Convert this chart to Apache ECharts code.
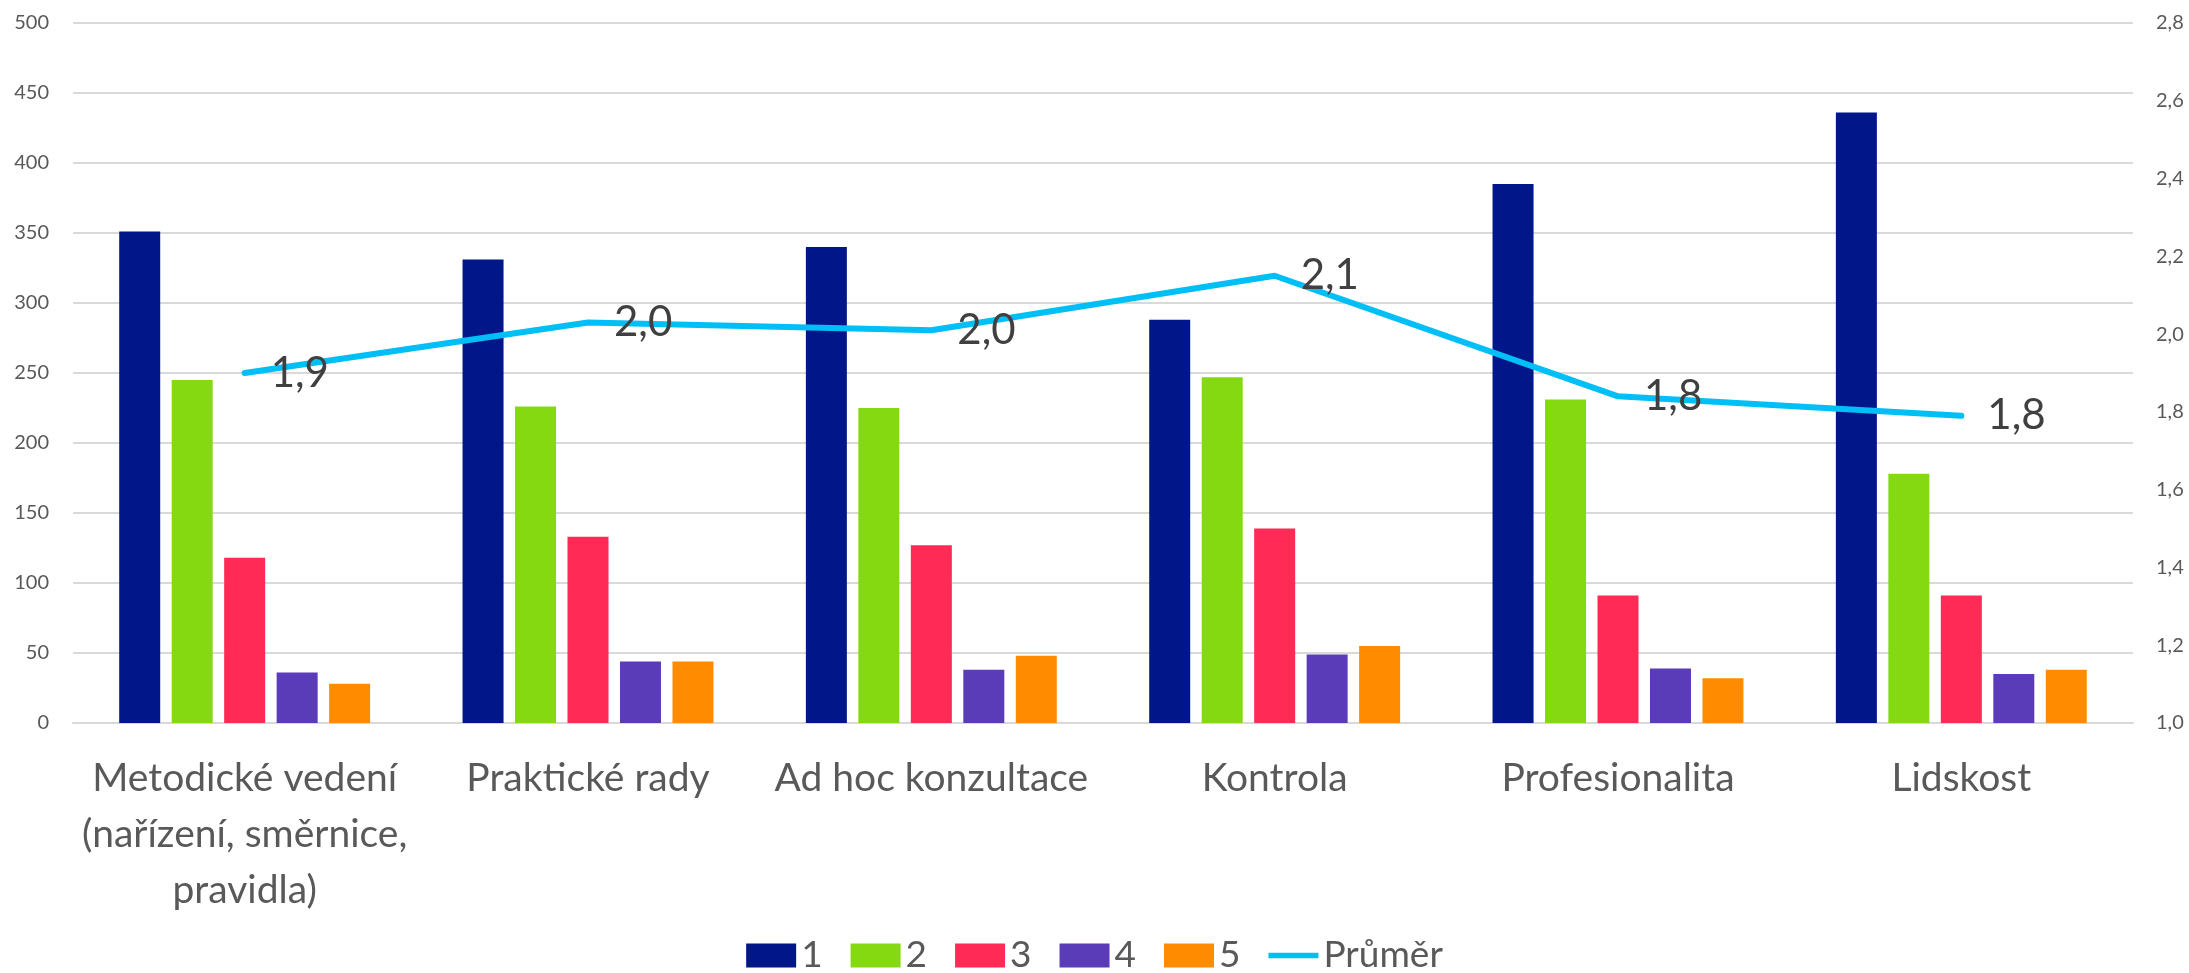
<!DOCTYPE html>
<html>
<head>
<meta charset="utf-8">
<script src="https://cdn.jsdelivr.net/npm/echarts@6/dist/echarts.min.js"></script>
<style>
  html, body { margin: 0; padding: 0; background: #fff; }
  #main { width: 2189px; height: 973px; }
</style>
</head>
<body>
<div id="main"></div>
<script>
const categories = [
  "Metodické vedení\n(nařízení, směrnice,\npravidla)",
  "Praktické rady",
  "Ad hoc konzultace",
  "Kontrola",
  "Profesionalita",
  "Lidskost",
]
const seriesNames = ["1", "2", "3", "4", "5"]
const values1 = [351, 331, 340, 288, 385, 436]
const values2 = [245, 226, 225, 247, 231, 178]
const values3 = [118, 133, 127, 139, 91, 91]
const values4 = [36, 44, 38, 49, 39, 35]
const values5 = [28, 44, 48, 55, 32, 38]
const average = [1.90, 2.03, 2.01, 2.15, 1.84, 1.79]
const barColors = ["#001689", "#84D911", "#FF2A55", "#5A3BB8", "#FF8C00"]
const lineColor = "#00BFF7"

const font = "Lato"
const chart = echarts.init(document.getElementById("main"))

const barSeries = [values1, values2, values3, values4, values5].map((data, i) => ({
  name: seriesNames[i],
  type: "bar",
  data: data,
  barWidth: 41,
  barGap: "28%",
  itemStyle: { color: barColors[i] },
}))

const option = {
  animation: false,
  grid: { left: 73, right: 56, top: 23, bottom: 250 },
  legend: {
    bottom: -6,
    left: "center",
    itemWidth: 50,
    itemHeight: 24,
    itemGap: 28,
    textStyle: { fontFamily: font, fontSize: 37, color: "#595959" },
    data: [
      ...seriesNames.map(n => ({ name: n, icon: "rect" })),
      { name: "Průměr", icon: "path://M0,0 L56,0 L56,6 L0,6 Z", itemStyle: { color: lineColor } },
    ],
  },
  xAxis: {
    type: "category",
    data: categories,
    axisLine: { lineStyle: { color: "#d9d9d9", width: 2 } },
    axisTick: { show: false },
    axisLabel: {
      fontFamily: font,
      fontSize: 39,
      color: "#595959",
      margin: 27,
      lineHeight: 56,
      interval: 0,
    },
  },
  yAxis: [
    {
      type: "value",
      min: 0,
      max: 500,
      interval: 50,
      axisLabel: { fontFamily: font, fontSize: 20, color: "#595959", margin: 24 },
      splitLine: { lineStyle: { color: "#d9d9d9", width: 2 } },
      axisLine: { show: false },
    },
    {
      type: "value",
      min: 1.0,
      max: 2.8,
      interval: 0.2,
      axisLabel: {
        fontFamily: font,
        fontSize: 20,
        color: "#595959",
        margin: 23,
        formatter: v => v.toFixed(1).replace(".", ","),
      },
      splitLine: { show: false },
      axisLine: { show: false },
    },
  ],
  series: [
    ...barSeries,
    {
      name: "Průměr",
      type: "line",
      yAxisIndex: 1,
      data: average,
      symbol: "circle",
      symbolSize: 2,
      showSymbol: true,
      lineStyle: { color: lineColor, width: 6, cap: "round", join: "round" },
      itemStyle: { color: lineColor },
      z: 5,
      label: {
        show: true,
        position: "right",
        distance: 25,
        fontFamily: font,
        fontSize: 42,
        color: "#404040",
        formatter: p => p.value.toFixed(1).replace(".", ","),
      },
    },
  ],
}

chart.setOption(option)
</script>
</body>
</html>
